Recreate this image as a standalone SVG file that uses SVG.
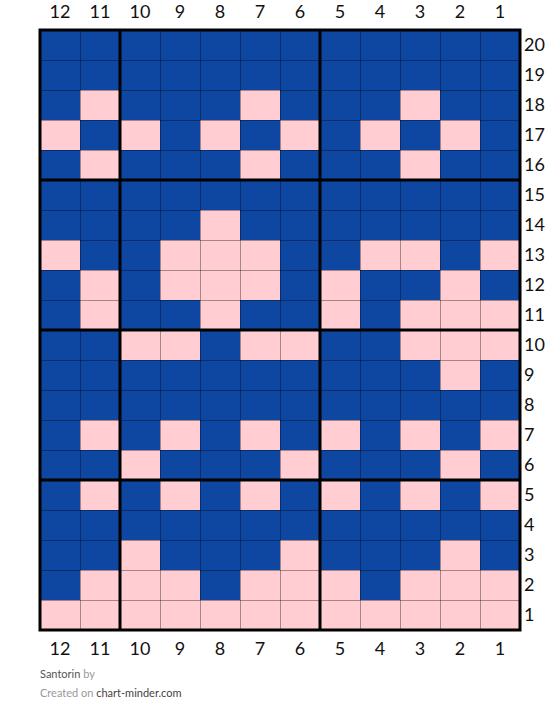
<svg xmlns="http://www.w3.org/2000/svg" width="560" height="723" viewBox="0 0 560 723">
<style>
.p{fill:#FFCDD2}
.lbl{font-family:Lato,"Liberation Sans",sans-serif;font-size:18px;fill:#111}
.c{text-anchor:middle}
.thin{stroke:#000;stroke-opacity:0.35;stroke-width:1;fill:none}
.thick{stroke:#000;stroke-width:3;fill:none}
.ft{font-family:Lato,"Liberation Sans",sans-serif;font-size:11px}
</style>
<rect x="0" y="0" width="560" height="723" fill="#fff"/>
<g id="grid">
<rect x="40" y="30" width="480" height="600" fill="#0D47A1"/>
<g id="pink">
<rect class="p" x="80" y="90" width="40" height="30"/><rect class="p" x="240" y="90" width="40" height="30"/><rect class="p" x="400" y="90" width="40" height="30"/>
<rect class="p" x="40" y="120" width="40" height="30"/><rect class="p" x="120" y="120" width="40" height="30"/><rect class="p" x="200" y="120" width="40" height="30"/><rect class="p" x="280" y="120" width="40" height="30"/><rect class="p" x="360" y="120" width="40" height="30"/><rect class="p" x="440" y="120" width="40" height="30"/>
<rect class="p" x="80" y="150" width="40" height="30"/><rect class="p" x="240" y="150" width="40" height="30"/><rect class="p" x="400" y="150" width="40" height="30"/>
<rect class="p" x="200" y="210" width="40" height="30"/>
<rect class="p" x="40" y="240" width="40" height="30"/><rect class="p" x="160" y="240" width="120" height="30"/><rect class="p" x="360" y="240" width="80" height="30"/><rect class="p" x="480" y="240" width="40" height="30"/>
<rect class="p" x="80" y="270" width="40" height="30"/><rect class="p" x="160" y="270" width="120" height="30"/><rect class="p" x="320" y="270" width="40" height="30"/><rect class="p" x="440" y="270" width="40" height="30"/>
<rect class="p" x="80" y="300" width="40" height="30"/><rect class="p" x="200" y="300" width="40" height="30"/><rect class="p" x="320" y="300" width="40" height="30"/><rect class="p" x="400" y="300" width="120" height="30"/>
<rect class="p" x="120" y="330" width="80" height="30"/><rect class="p" x="240" y="330" width="80" height="30"/><rect class="p" x="400" y="330" width="120" height="30"/>
<rect class="p" x="440" y="360" width="40" height="30"/>
<rect class="p" x="80" y="420" width="40" height="30"/><rect class="p" x="160" y="420" width="40" height="30"/><rect class="p" x="240" y="420" width="40" height="30"/><rect class="p" x="320" y="420" width="40" height="30"/><rect class="p" x="400" y="420" width="40" height="30"/><rect class="p" x="480" y="420" width="40" height="30"/>
<rect class="p" x="120" y="450" width="40" height="30"/><rect class="p" x="280" y="450" width="40" height="30"/><rect class="p" x="440" y="450" width="40" height="30"/>
<rect class="p" x="80" y="480" width="40" height="30"/><rect class="p" x="160" y="480" width="40" height="30"/><rect class="p" x="240" y="480" width="40" height="30"/><rect class="p" x="320" y="480" width="40" height="30"/><rect class="p" x="400" y="480" width="40" height="30"/><rect class="p" x="480" y="480" width="40" height="30"/>
<rect class="p" x="120" y="540" width="40" height="30"/><rect class="p" x="280" y="540" width="40" height="30"/><rect class="p" x="440" y="540" width="40" height="30"/>
<rect class="p" x="80" y="570" width="120" height="30"/><rect class="p" x="240" y="570" width="120" height="30"/><rect class="p" x="400" y="570" width="120" height="30"/>
<rect class="p" x="40" y="600" width="480" height="30"/>
</g>
<path class="thin" d="M80.5 30V630M160.5 30V630M200.5 30V630M240.5 30V630M280.5 30V630M360.5 30V630M400.5 30V630M440.5 30V630M480.5 30V630M40 60.5H520M40 90.5H520M40 120.5H520M40 150.5H520M40 210.5H520M40 240.5H520M40 270.5H520M40 300.5H520M40 360.5H520M40 390.5H520M40 420.5H520M40 450.5H520M40 510.5H520M40 540.5H520M40 570.5H520M40 600.5H520"/>
<path class="thick" d="M120 30V630M320 30V630M40 180H520M40 330H520M40 480H520"/>
<rect class="thick" x="40" y="30" width="480" height="600"/>
</g>
<g id="col-top" class="lbl c">
<text x="60" y="18">12</text><text x="100" y="18">11</text><text x="140" y="18">10</text><text x="180" y="18">9</text><text x="220" y="18">8</text><text x="260" y="18">7</text><text x="300" y="18">6</text><text x="340" y="18">5</text><text x="380" y="18">4</text><text x="420" y="18">3</text><text x="460" y="18">2</text><text x="500" y="18">1</text>
</g>
<g id="col-bottom" class="lbl c">
<text x="60" y="655">12</text><text x="100" y="655">11</text><text x="140" y="655">10</text><text x="180" y="655">9</text><text x="220" y="655">8</text><text x="260" y="655">7</text><text x="300" y="655">6</text><text x="340" y="655">5</text><text x="380" y="655">4</text><text x="420" y="655">3</text><text x="460" y="655">2</text><text x="500" y="655">1</text>
</g>
<g id="rows" class="lbl">
<text x="524" y="51">20</text><text x="524" y="81">19</text><text x="524" y="111">18</text><text x="524" y="141">17</text><text x="524" y="171">16</text><text x="524" y="201">15</text><text x="524" y="231">14</text><text x="524" y="261">13</text><text x="524" y="291">12</text><text x="524" y="321">11</text><text x="524" y="351">10</text><text x="524" y="381">9</text><text x="524" y="411">8</text><text x="524" y="441">7</text><text x="524" y="471">6</text><text x="524" y="501">5</text><text x="524" y="531">4</text><text x="524" y="561">3</text><text x="524" y="591">2</text><text x="524" y="621">1</text>
</g>
<g id="footer" class="ft">
<text x="40" y="678"><tspan fill="#555">Santorin</tspan><tspan fill="#999"> by</tspan></text>
<text x="40" y="697"><tspan fill="#999">Created on </tspan><tspan fill="#444">chart-minder.com</tspan></text>
</g>
</svg>
